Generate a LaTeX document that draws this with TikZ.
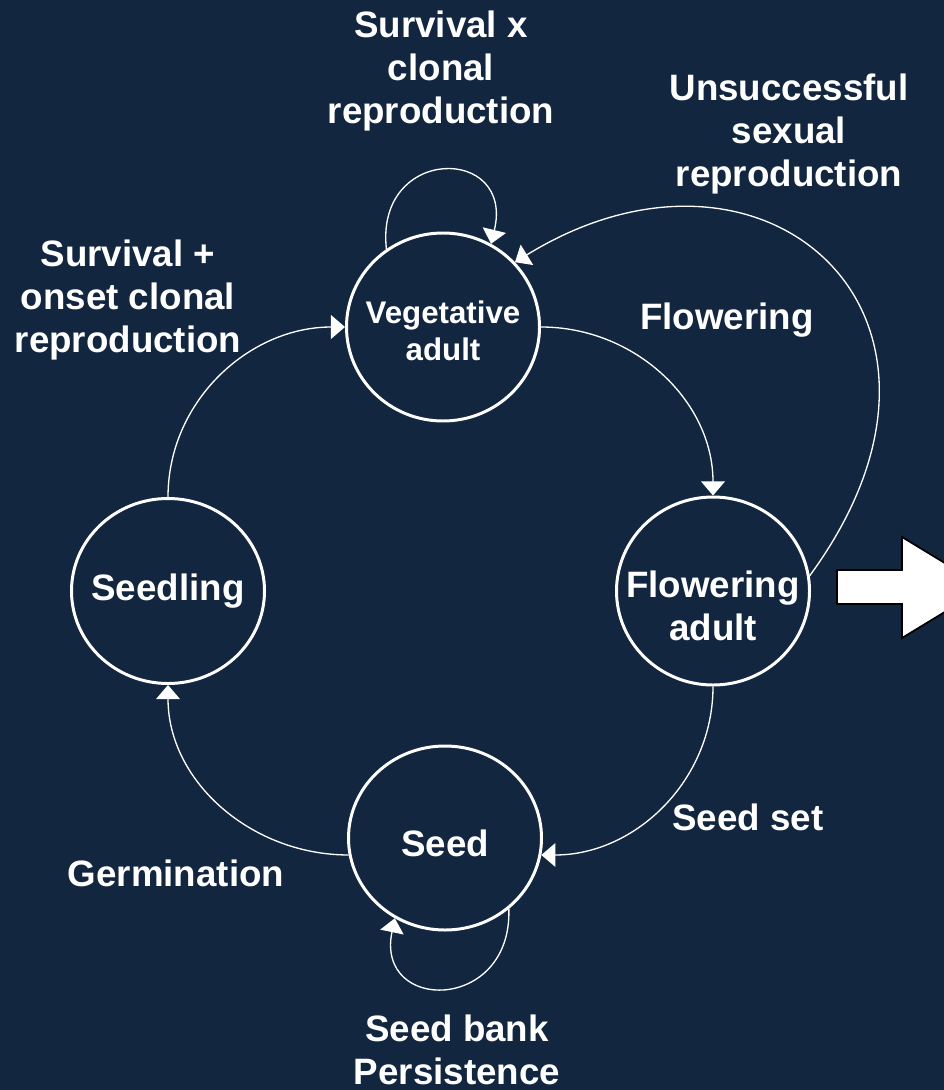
\documentclass[tikz,border=0pt]{standalone}
\usepackage{fontspec}
\setmainfont{Liberation Sans}
\usepackage{tikz}
\usetikzlibrary{shapes.geometric,arrows.meta}
\definecolor{bgnavy}{RGB}{19,38,64}

\begin{document}
\begin{tikzpicture}[x=0.2mm,y=0.2mm,
	state/.style={ellipse,draw=white,line width=1.7pt,minimum width=3.86cm,minimum height=3.76cm},
	lbl/.style={text=white,align=center,font=\bfseries\fontsize{20.9}{24.5}\selectfont},
	small/.style={lbl,font=\bfseries\fontsize{17.8}{21.4}\selectfont},
	link/.style={white,line width=0.75pt,-{Triangle[length=8pt,width=13.5pt]}}]
	\tikzstyle{every node}+=[inner sep=0pt]
	\fill [bgnavy] (0,0) rectangle (944,-1090);
	\useasboundingbox (0,0) rectangle (944,-1090);
	% states
	\node [state,label={[small,yshift=-0.8mm]center:Vegetative\\adult}] (veg) at (443,-327) {};
	\node [state,label={[lbl,yshift=-3mm]center:Flowering\\adult}] (flow) at (713,-591) {};
	\node [state,minimum height=3.68cm,label={[lbl,yshift=-1mm]center:Seed}] (seed) at (445,-838) {};
	\node [state,minimum height=3.7cm,label={[lbl]center:Seedling}] (seedling) at (168,-591) {};
	% main cycle
	\draw [link] (veg.0) to [out=0,in=90] (flow.90);
	\draw [link] (flow.-90) to [out=-90,in=0] (seed.-10);
	\draw [link] (seed.190) to [out=180,in=-90] (seedling.-90);
	\draw [link] (seedling.90) to [out=90,in=180] (veg.180);
	% loops
	\draw [link] (veg.126) .. controls (375,-145) and (515,-145) .. (veg.60);
	\draw [link] (seed.-48) .. controls (512,-1013) and (375,-1013) .. (seed.238);
	\draw [link] (flow.9) .. controls (1000,-316) and (765,-108) .. (veg.42);
	% block arrow
	\draw [black,line width=1pt,fill=white] (837,-570) -- (902,-570) -- (902,-537) -- (985,-587.5) -- (902,-638) -- (902,-604) -- (837,-604) -- cycle;
	% labels
	\node [lbl] (survclonal) at (441,-71) {Survival x\\clonal\\reproduction};
	\node [lbl] (unsucc) at (789,-134) {Unsuccessful\\sexual\\reproduction};
	\node [lbl] (onset) at (128,-300) {Survival +\\onset clonal\\reproduction};
	\node [lbl] (flowering) at (727,-320) {Flowering};
	\node [lbl] (seedset) at (748,-817) {Seed set};
	\node [lbl] (germ) at (176,-873) {Germination};
	\node [lbl] (seedbank) at (457,-1050) {Seed bank\\Persistence};
\end{tikzpicture}
\end{document}
